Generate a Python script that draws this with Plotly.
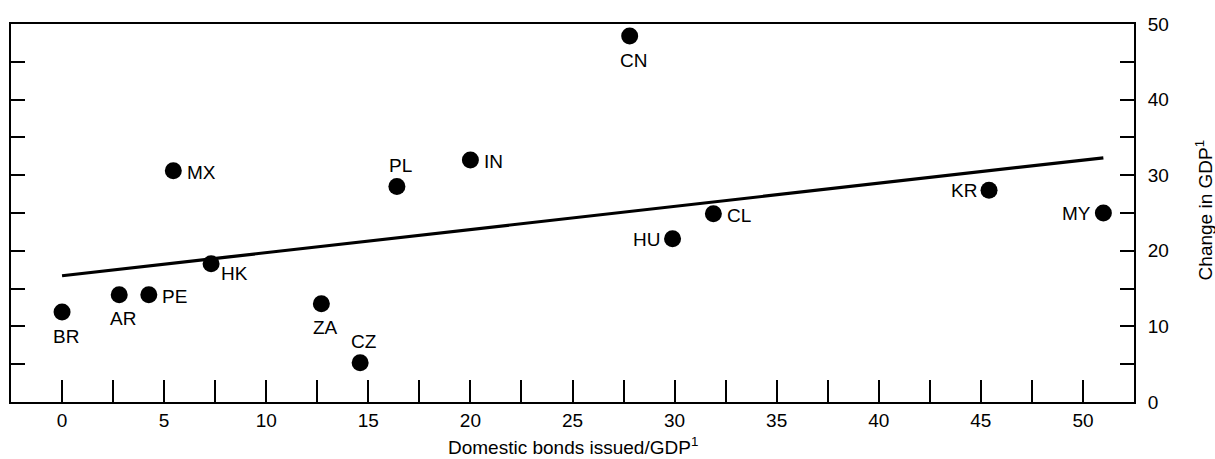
import plotly.graph_objects as go

countries = ["BR", "AR", "PE", "HK", "ZA", "CZ", "MX", "PL", "IN", "CN", "CL", "HU", "KR", "MY"]
bonds_gdp = [0.0, 2.8, 4.25, 7.3, 12.7, 14.6, 5.45, 16.4, 20.0, 27.8, 31.9, 29.9, 45.4, 51.0]
gdp_change = [11.9, 14.2, 14.2, 18.3, 13.0, 5.2, 30.6, 28.5, 32.0, 48.4, 24.9, 21.6, 28.0, 25.0]
label_side = ["below", "below", "right", "belowright", "below",
              "above", "right", "above", "right", "below",
              "right", "left", "left", "left"]

trend_x = [0.0, 51.0]
trend_y = [16.7, 32.3]

x_tickvals = [0, 2.5, 5, 7.5, 10, 12.5, 15, 17.5, 20, 22.5, 25, 27.5, 30, 32.5, 35, 37.5, 40, 42.5, 45, 47.5, 50]
x_ticktext = ["0", "", "5", "", "10", "", "15", "", "20", "", "25", "", "30", "", "35", "", "40", "", "45", "", "50"]
y_tickvals = [0, 5, 10, 15, 20, 25, 30, 35, 40, 45, 50]
y_ticktext = ["0", "", "10", "", "20", "", "30", "", "40", "", "50"]

FONT = "Liberation Sans, Arial, sans-serif"
FS = 19

# label placement style: (xanchor, xshift, yshift)
LABEL_STYLE = {
    "below": ("center", 4, -24),
    "above": ("center", 3.5, 21.5),
    "right": ("left", 12.5, -1.5),
    "left": ("right", -11.5, -0.5),
    "belowright": ("left", 9, -9.5),
}

fig = go.Figure()
fig.add_trace(go.Scatter(
    x=trend_x, y=trend_y, mode="lines",
    line=dict(color="black", width=3.2), hoverinfo="skip", showlegend=False,
))
fig.add_trace(go.Scatter(
    x=bonds_gdp, y=gdp_change, mode="markers",
    marker=dict(color="black", size=17),
    showlegend=False,
))

annotations = []
for name, xv, yv, side in zip(countries, bonds_gdp, gdp_change, label_side):
    xa, xs, ys = LABEL_STYLE[side]
    annotations.append(dict(
        text=name, x=xv, y=yv, xref="x", yref="y", showarrow=False,
        xanchor=xa, yanchor="middle", xshift=xs, yshift=ys, borderpad=0,
        font=dict(family=FONT, size=FS, color="black"),
    ))

annotations += [
    dict(text="Domestic bonds issued/GDP<sup>1</sup>", xref="paper", yref="paper",
         x=0.5, y=(402 - 459) / 378, xanchor="center", yanchor="bottom",
         showarrow=False, borderpad=0, font=dict(family=FONT, size=FS, color="black")),
    dict(text="Change in GDP<sup>1</sup>", xref="paper", yref="paper",
         x=(1204 - 9) / 1125, y=(402 - 210.5) / 378, xanchor="center", yanchor="middle",
         textangle=-90, showarrow=False, font=dict(family=FONT, size=FS, color="black")),
]

fig.update_layout(
    width=1215, height=459,
    margin=dict(l=9, r=81, t=24, b=57),
    paper_bgcolor="white", plot_bgcolor="white",
    font=dict(family=FONT, size=FS, color="black"),
    xaxis=dict(
        range=[-2.5, 52.5], tickvals=x_tickvals, ticktext=x_ticktext,
        ticks="inside", ticklen=22, tickwidth=2, tickcolor="black",
        showline=True, linecolor="black", linewidth=2, mirror=True,
        showgrid=False, zeroline=False,
        tickfont=dict(family=FONT, size=FS, color="black"),
    ),
    yaxis=dict(
        range=[0, 50], side="right", tickvals=y_tickvals, ticktext=y_ticktext,
        ticks="inside", ticklen=14, tickwidth=2, tickcolor="black",
        showline=True, linecolor="black", linewidth=2, mirror="ticks",
        showgrid=False, zeroline=False, ticklabelstandoff=8,
        tickfont=dict(family=FONT, size=FS, color="black"),
    ),
    annotations=annotations,
)

fig.write_html("out.html")
